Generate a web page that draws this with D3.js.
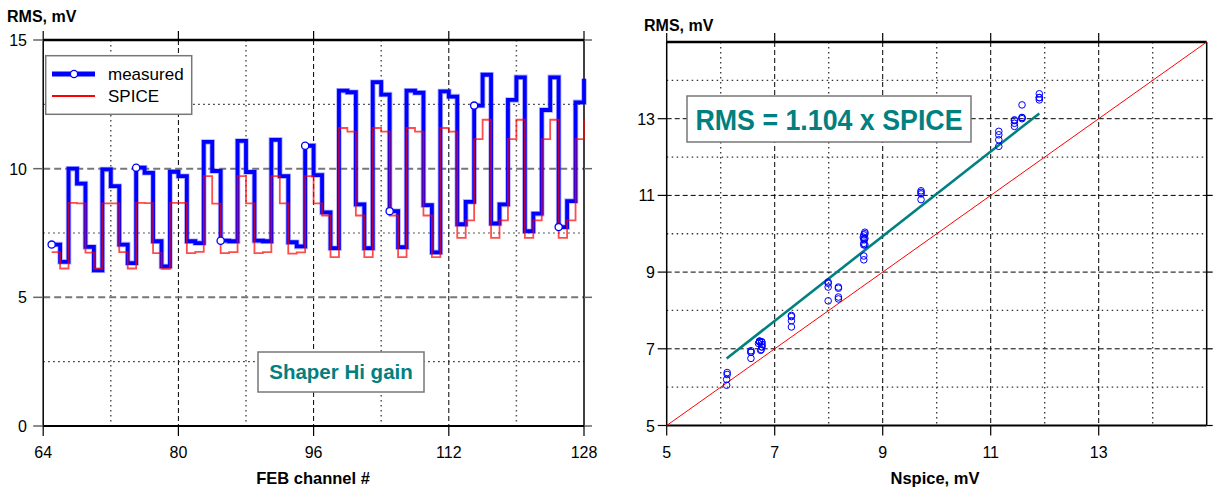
<!DOCTYPE html>
<html><head><meta charset="utf-8">
<script src="https://cdn.jsdelivr.net/npm/d3@7"></script>
<style>body{margin:0;background:#fff} svg{display:block;font-family:"Liberation Sans",Arial,sans-serif}</style>
</head><body><svg id="c" width="1213" height="492"></svg>
<script>
// ---------------- data ----------------
const channels = [65,66,67,68,69,70,71,72,73,74,75,76,77,78,79,80,
  81,82,83,84,85,86,87,88,89,90,91,92,93,94,95,96,
  97,98,99,100,101,102,103,104,105,106,107,108,109,110,111,112,
  113,114,115,116,117,118,119,120,121,122,123,124,125,126,127,128];
const measured = [7.05,6.38,10.0,9.42,6.96,6.05,9.97,9.32,7.05,6.33,10.04,9.84,7.18,6.2,9.88,9.71,
  7.18,7.11,11.04,9.91,7.2,7.18,11.08,9.87,7.2,7.18,11.12,9.71,7.14,6.98,10.89,9.75,
  8.3,6.91,13.03,12.97,8.61,6.91,13.36,12.88,8.35,6.95,13.03,12.95,8.58,6.75,13.0,12.8,
  7.84,8.71,12.45,13.65,7.87,8.61,12.67,13.55,7.57,8.25,12.28,13.55,7.73,8.74,12.58,13.49];
const spice = [6.76,6.12,8.67,8.65,6.74,6.11,8.65,8.65,6.76,6.12,8.67,8.66,6.72,6.11,8.67,8.67,
  6.72,6.77,9.71,8.64,6.72,6.76,9.71,8.65,6.72,6.76,9.71,8.65,6.7,6.75,9.71,8.65,
  8.18,6.56,11.58,11.44,8.18,6.56,11.58,11.44,8.18,6.56,11.58,11.44,8.18,6.56,11.58,11.44,
  7.31,7.99,11.15,11.9,7.31,7.99,11.15,11.9,7.31,7.99,11.15,11.9,7.31,7.99,11.15,11.9];
const leftXTicks = [64,80,96,112,128];
const leftXGrid = [72,80,88,96,104,112,120];
const leftYTicks = [0,5,10,15];
const leftYGrid = [2.5,5,7.5,10,12.5];
const rightTicks = [5,7,9,11,13];
const rightGrid = [6,7,8,9,10,11,12,13,14];
const fitSlope = 1.104;
const markerEvery = 10;
const legendLabels = ["measured","SPICE"];
const fitLabel = "RMS = 1.104 x SPICE";
const noteLabel = "Shaper Hi gain";

const TEAL = "#008080", BLUE = "#0000ff", RED = "#ff0000";
const svg = d3.select("#c");
const rows = channels.map((c,i)=>({ch:c, m:measured[i], s:spice[i]}));

function line(g,x1,y1,x2,y2,stroke,w,dash){
  return g.append("line").attr("x1",x1).attr("y1",y1).attr("x2",x2).attr("y2",y2)
    .attr("stroke",stroke).attr("stroke-width",w).attr("stroke-dasharray",dash||null);
}

// ---------------- left chart ----------------
const xL = d3.scaleLinear().domain([64,128]).range([43.2,584]);
const yL = d3.scaleLinear().domain([0,15]).range([426,40]);
const gL = svg.append("g");
leftXGrid.forEach(v=>{
  if (v%16===0) line(gL,xL(v),yL(15),xL(v),yL(0),"#000",1,"5,3");
  else line(gL,xL(v),yL(15),xL(v),yL(0),"#555",1.5,"1.5,3.5");
});
leftYGrid.forEach(v=>{
  if (v%5===0) line(gL,xL(64),yL(v),xL(128),yL(v),"#777",2,"7,4");
  else line(gL,xL(64),yL(v),xL(128),yL(v),"#222",1.2,"1.5,3.5");
});
// frame
line(gL,xL(64),yL(15),xL(128),yL(15),"#000",2.5);
line(gL,xL(64),yL(0),xL(128),yL(0),"#000",2);
line(gL,xL(64),yL(0),xL(64),yL(15),"#000",1.5);
line(gL,xL(128),yL(0),xL(128),yL(15),"#000",1.5);
// ticks
leftYTicks.forEach(v=>{
  line(gL,xL(64)-10,yL(v),xL(64),yL(v),"#666",1.5);
  line(gL,xL(128),yL(v),xL(128)+8,yL(v),"#666",1.5);
  gL.append("text").attr("x",27).attr("y",yL(v)+6).attr("text-anchor","end")
    .attr("font-size",16).text(v);
});
leftXTicks.forEach(v=>{
  line(gL,xL(v),yL(0),xL(v),yL(0)+10,"#000",1.2);
  line(gL,xL(v),yL(15)-9,xL(v),yL(15),"#000",1.2);
  gL.append("text").attr("x",xL(v)).attr("y",458).attr("text-anchor","middle")
    .attr("font-size",16).text(v);
});
gL.append("text").attr("x",7).attr("y",22).attr("font-size",16).attr("font-weight","bold").text("RMS, mV");
gL.append("text").attr("x",313).attr("y",484).attr("text-anchor","middle").attr("font-size",16.5)
  .attr("font-weight","bold").text("FEB channel #");

const step = d3.line().curve(d3.curveStepAfter).x(d=>xL(d.ch));
gL.append("path").datum(rows).attr("d",step.y(d=>yL(d.m))).attr("fill","none")
  .attr("stroke","rgba(80,80,255,0.45)").attr("stroke-width",5.5);
gL.append("path").datum(rows).attr("d",step.y(d=>yL(d.m))).attr("fill","none")
  .attr("stroke",BLUE).attr("stroke-width",3.8);
gL.append("path").datum(rows).attr("d",step.y(d=>yL(d.s))).attr("fill","none")
  .attr("stroke",RED).attr("stroke-opacity",0.7).attr("stroke-width",1.8);
gL.selectAll("circle.mk").data(rows.filter((d,i)=>i%markerEvery===0)).join("circle")
  .attr("class","mk").attr("cx",d=>xL(d.ch)).attr("cy",d=>yL(d.m)).attr("r",3.6)
  .attr("fill","#fff").attr("stroke",BLUE).attr("stroke-width",1.3);

// legend
const lg = gL.append("g");
lg.append("rect").attr("x",45.7).attr("y",55.7).attr("width",146).attr("height",58.6)
  .attr("fill","#fff").attr("stroke","#777").attr("stroke-width",1.5);
line(lg,52,74,95,74,BLUE,5);
lg.append("circle").attr("cx",74).attr("cy",74).attr("r",3.6).attr("fill","#fff").attr("stroke",BLUE).attr("stroke-width",1.3);
line(lg,52,96,95,96,RED,2);
lg.append("text").attr("x",108).attr("y",80).attr("font-size",17).text(legendLabels[0]);
lg.append("text").attr("x",108).attr("y",102).attr("font-size",17).text(legendLabels[1]);

// note box
gL.append("rect").attr("x",258).attr("y",352).attr("width",166).attr("height",40)
  .attr("fill","#fff").attr("stroke","#777").attr("stroke-width",1.5);
gL.append("text").attr("x",341).attr("y",379).attr("text-anchor","middle").attr("font-size",20.5)
  .attr("font-weight","bold").attr("fill",TEAL).text(noteLabel);

// ---------------- right chart ----------------
const xR = d3.scaleLinear().domain([5,15]).range([666.7,1206.7]);
const yR = d3.scaleLinear().domain([5,15]).range([425.5,42]);
const gR = svg.append("g");
rightGrid.forEach(v=>{
  const odd = v%2===1;
  line(gR,xR(v),yR(15),xR(v),yR(5),odd?"#000":"#333",odd?1:1.3,odd?"5,3":"1.5,3.5");
  line(gR,xR(5),yR(v),xR(15),yR(v),odd?"#000":"#333",odd?1:1.3,odd?"5,3":"1.5,3.5");
});
line(gR,xR(5),yR(15),xR(15),yR(15),"#000",2.5);
line(gR,xR(5),yR(5),xR(15),yR(5),"#000",2);
line(gR,xR(5),yR(5),xR(5),yR(15),"#000",1.5);
line(gR,xR(15),yR(5),xR(15),yR(15),"#000",1.5);
rightTicks.forEach(v=>{
  line(gR,xR(v),yR(5),xR(v),yR(5)+10,"#000",1.2);
  line(gR,xR(v),yR(15)-9,xR(v),yR(15),"#000",1.2);
  line(gR,xR(5)-9,yR(v),xR(5),yR(v),"#000",1.2);
  line(gR,xR(15),yR(v),xR(15)+6,yR(v),"#000",1.2);
  gR.append("text").attr("x",xR(v)).attr("y",458).attr("text-anchor","middle").attr("font-size",16).text(v);
  gR.append("text").attr("x",655).attr("y",yR(v)+6).attr("text-anchor","end").attr("font-size",16).text(v);
});
gR.append("text").attr("x",644).attr("y",31).attr("font-size",16).attr("font-weight","bold").text("RMS, mV");
gR.append("text").attr("x",935).attr("y",484).attr("text-anchor","middle").attr("font-size",16.5)
  .attr("font-weight","bold").text("Nspice, mV");

// y = x reference
line(gR,xR(5),yR(5),xR(15),yR(15),RED,1);
// fit line
const sx = d3.extent(spice);
gR.append("path").datum(sx.map(v=>[v, v*fitSlope]))
  .attr("d",d3.line().x(d=>xR(d[0])).y(d=>yR(d[1]))).attr("stroke",TEAL).attr("stroke-width",2.6).attr("fill","none");
// points
gR.selectAll("circle.pt").data(rows).join("circle").attr("class","pt")
  .attr("cx",d=>xR(d.s)).attr("cy",d=>yR(d.m)).attr("r",3.3)
  .attr("fill","none").attr("stroke",BLUE).attr("stroke-width",1);

// fit label box
gR.append("rect").attr("x",687).attr("y",96).attr("width",284).attr("height",46)
  .attr("fill","#fff").attr("stroke","#777").attr("stroke-width",1.5);
gR.append("text").attr("x",829).attr("y",129.5).attr("text-anchor","middle").attr("font-size",29)
  .attr("font-weight","bold").attr("fill",TEAL).attr("textLength",267).attr("lengthAdjust","spacingAndGlyphs")
  .text(fitLabel);
</script></body></html>
